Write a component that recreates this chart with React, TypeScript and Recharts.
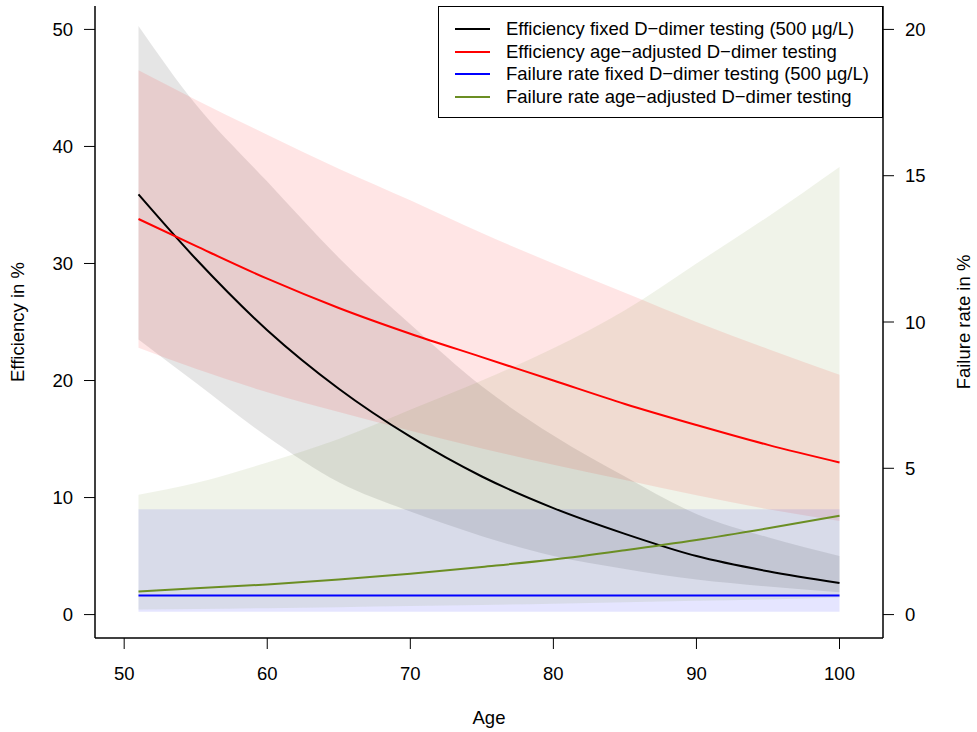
import { ComposedChart, Area, Line, XAxis, YAxis, Legend } from "recharts";

const ages = [51, 55, 60, 65, 70, 75, 80, 85, 90, 95, 100];

// efficiency, fixed cut-off (left axis)
const effFixed = [35.9, 30.4, 24.3, 19.3, 15.2, 11.8, 9.1, 6.9, 5.0, 3.7, 2.7];
const effFixedLo = [23.5, 19.8, 15.2, 11.3, 8.8, 6.7, 5.0, 3.9, 3.0, 2.4, 1.9];
const effFixedHi = [50.3, 43.6, 37.0, 30.5, 24.8, 19.5, 15.3, 11.8, 8.6, 6.6, 5.0];

// efficiency, age-adjusted (left axis)
const effAdj = [33.8, 31.5, 28.7, 26.2, 24.0, 22.0, 20.0, 18.0, 16.2, 14.5, 13.0];
const effAdjLo = [22.8, 21.0, 19.0, 17.3, 15.7, 14.2, 12.8, 11.5, 10.2, 9.0, 8.0];
const effAdjHi = [46.5, 44.0, 41.0, 38.1, 35.4, 32.6, 30.0, 27.5, 25.0, 22.7, 20.5];

// failure rate, fixed cut-off (right axis)
const failFixed = [0.65, 0.65, 0.65, 0.65, 0.65, 0.65, 0.65, 0.65, 0.65, 0.65, 0.65];
const failFixedLo = [0.1, 0.1, 0.1, 0.1, 0.1, 0.1, 0.1, 0.1, 0.1, 0.1, 0.1];
const failFixedHi = [3.6, 3.6, 3.6, 3.6, 3.6, 3.6, 3.6, 3.6, 3.6, 3.6, 3.6];

// failure rate, age-adjusted (right axis)
const failAdj = [0.79, 0.9, 1.03, 1.2, 1.4, 1.63, 1.88, 2.2, 2.55, 2.95, 3.38];
const failAdjLo = [0.17, 0.19, 0.22, 0.25, 0.29, 0.33, 0.37, 0.42, 0.47, 0.52, 0.58];
const failAdjHi = [4.1, 4.5, 5.2, 6.0, 7.0, 8.0, 9.1, 10.4, 12.0, 13.6, 15.3];

const xTicks = [50, 60, 70, 80, 90, 100];
const leftTicks = [0, 10, 20, 30, 40, 50];
const rightTicks = [0, 5, 10, 15, 20];

const legendItems = [
  { label: "Efficiency fixed D\u2212dimer testing (500 \u00b5g/L)", color: "#000000" },
  { label: "Efficiency age\u2212adjusted D\u2212dimer testing", color: "#ff0000" },
  { label: "Failure rate fixed D\u2212dimer testing (500 \u00b5g/L)", color: "#0000ff" },
  { label: "Failure rate age\u2212adjusted D\u2212dimer testing", color: "#6b8e23" },
];

const data = ages.map((age, i) => ({
  age,
  effFixed: effFixed[i],
  effFixedBand: [effFixedLo[i], effFixedHi[i]],
  effAdj: effAdj[i],
  effAdjBand: [effAdjLo[i], effAdjHi[i]],
  failFixed: failFixed[i],
  failFixedBand: [failFixedLo[i], failFixedHi[i]],
  failAdj: failAdj[i],
  failAdjBand: [failAdjLo[i], failAdjHi[i]],
}));

const font = "'Liberation Sans', Arial, sans-serif";
const tickStyle = { fontSize: 18.5, fill: "#000", fontFamily: font };

const LegendBox = () => (
  <div
    style={{
      width: 443,
      height: 110,
      border: "1px solid #000",
      background: "#fff",
      fontFamily: font,
      fontSize: 18.5,
      boxSizing: "content-box",
      paddingTop: 0,
    }}
  >
    {legendItems.map((d, i) => (
      <div
        key={i}
        style={{
          position: "absolute",
          left: 0,
          top: 12 + i * 22.5,
          height: 22,
          display: "flex",
          alignItems: "center",
          whiteSpace: "nowrap",
        }}
      >
        <div style={{ width: 35, height: 2, background: d.color, marginLeft: 17, marginRight: 16 }} />
        <span>{d.label}</span>
      </div>
    ))}
  </div>
);

const App = () => {
  return (
    <div style={{ position: "absolute", left: 0, top: 0, background: "#fff" }}>
      <ComposedChart
        width={977}
        height={732}
        data={data}
        margin={{ top: 6, right: 0, bottom: 0, left: 0 }}
      >
        <XAxis
          dataKey="age"
          type="number"
          domain={[47.96, 103.04]}
          ticks={xTicks}
          allowDataOverflow
          height={94}
          tickSize={11}
          tickMargin={18}
          axisLine={{ stroke: "#000", strokeWidth: 1.5 }}
          tickLine={{ stroke: "#000" }}
          tick={tickStyle}
          label={{ value: "Age", position: "insideBottom", offset: 8, style: { ...tickStyle, fontSize: 18.5 } }}
        />
        <XAxis
          xAxisId="top"
          orientation="top"
          type="number"
          domain={[47.96, 103.04]}
          height={0}
          tick={false}
          tickLine={false}
          axisLine={{ stroke: "#000", strokeWidth: 1.5 }}
        />
        <YAxis
          yAxisId="left"
          type="number"
          domain={[-2, 52]}
          ticks={leftTicks}
          allowDataOverflow
          width={95}
          tickSize={11}
          tickMargin={11}
          axisLine={{ stroke: "#000", strokeWidth: 1.5 }}
          tickLine={{ stroke: "#000" }}
          tick={tickStyle}
          label={{
            value: "Efficiency in %",
            angle: -90,
            position: "insideLeft",
            offset: 17,
            style: { ...tickStyle, textAnchor: "middle" },
          }}
        />
        <YAxis
          yAxisId="right"
          orientation="right"
          type="number"
          domain={[-0.8, 20.8]}
          ticks={rightTicks}
          allowDataOverflow
          width={94}
          tickSize={11}
          tickMargin={11}
          axisLine={{ stroke: "#000", strokeWidth: 1.5 }}
          tickLine={{ stroke: "#000" }}
          tick={tickStyle}
          label={{
            value: "Failure rate in %",
            angle: -90,
            position: "insideRight",
            offset: 14,
            style: { ...tickStyle, textAnchor: "middle" },
          }}
        />

        <Area yAxisId="left" type="monotone" dataKey="effFixedBand" stroke="none" fill="#000000" fillOpacity={0.1} isAnimationActive={false} />
        <Area yAxisId="left" type="monotone" dataKey="effAdjBand" stroke="none" fill="#ff0000" fillOpacity={0.1} isAnimationActive={false} />
        <Area yAxisId="right" type="monotone" dataKey="failFixedBand" stroke="none" fill="#0000ff" fillOpacity={0.1} isAnimationActive={false} />
        <Area yAxisId="right" type="monotone" dataKey="failAdjBand" stroke="none" fill="#6b8e23" fillOpacity={0.1} isAnimationActive={false} />

        <Line yAxisId="left" type="monotone" dataKey="effFixed" stroke="#000000" strokeWidth={2} dot={false} isAnimationActive={false} />
        <Line yAxisId="left" type="monotone" dataKey="effAdj" stroke="#ff0000" strokeWidth={2} dot={false} isAnimationActive={false} />
        <Line yAxisId="right" type="monotone" dataKey="failFixed" stroke="#0000ff" strokeWidth={2} dot={false} isAnimationActive={false} />
        <Line yAxisId="right" type="monotone" dataKey="failAdj" stroke="#6b8e23" strokeWidth={2} dot={false} isAnimationActive={false} />

        <Legend
          layout="vertical"
          align="center"
          verticalAlign="middle"
          content={() => <LegendBox />}
          wrapperStyle={{ position: "absolute", left: 438, top: 6, width: 445, height: 112 }}
        />
      </ComposedChart>
    </div>
  );
};

export default App;
